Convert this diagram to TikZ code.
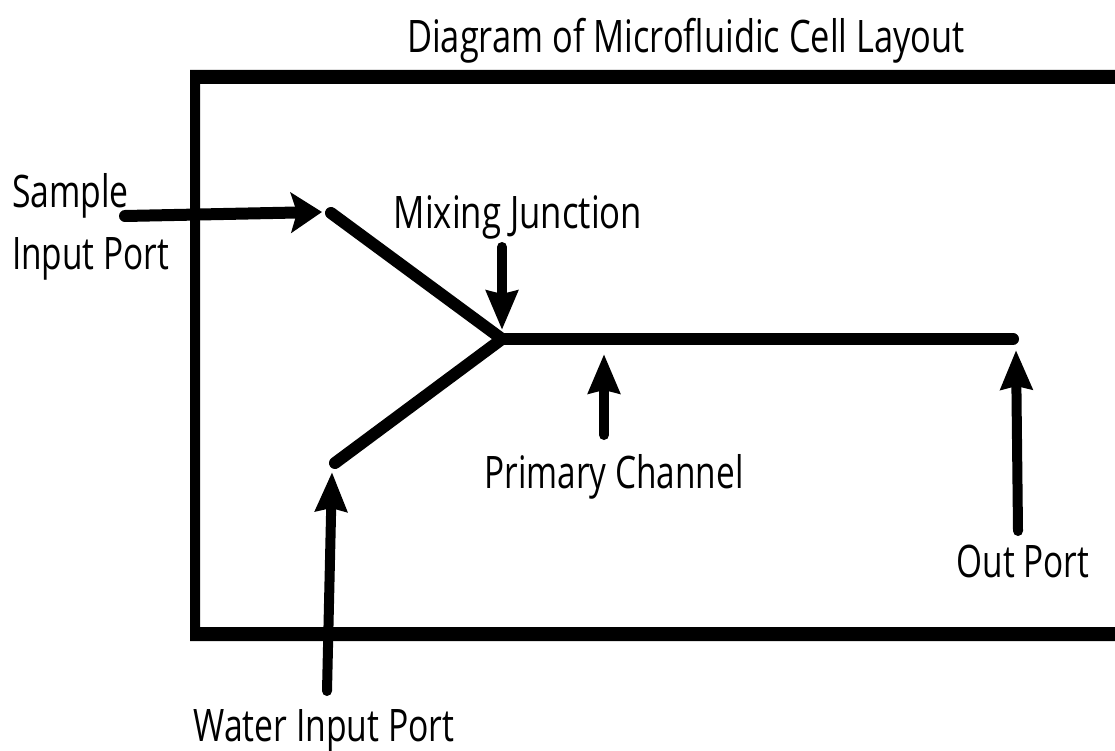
\documentclass[tikz,border=0pt]{standalone}
\usepackage{fontspec}
\setmainfont{Open Sans}
\usetikzlibrary{arrows.meta}
\tikzset{
  lbl/.style={inner sep=0pt,font=\fontsize{40}{48}\selectfont,yscale=1.12,xscale=0.86,align=left},
  chan/.style={line width=12pt,line cap=round,line join=round},
  arrh/.style={line width=12pt,line cap=round,-{Stealth[length=31pt,width=40pt,inset=6pt]}},
  arrv/.style={line width=10pt,line cap=round,-{Stealth[length=39pt,width=31pt,inset=3pt]}},
}
\begin{document}
\begin{tikzpicture}[x=1pt,y=-1pt]
\useasboundingbox (0,0) rectangle (1115,751);
\fill[white] (0,0) rectangle (1115,751);
\fill[black,even odd rule] (1115,70) -- (190,70) -- (190,641) -- (1115,641) -- cycle
  (1115,84) -- (200,84) -- (200,627) -- (1115,627) -- cycle;
\coordinate (s) at (331,213);
\coordinate (w) at (335,463);
\coordinate (j) at (502,339);
\coordinate (o) at (1013,339);
\draw[chan] (s) -- (j) -- (w);
\draw[chan] (j) -- (o);
\coordinate (a1) at (125,216);
\coordinate (a1e) at (322,212);
\coordinate (a2) at (502,247);
\coordinate (a2e) at (502,330);
\coordinate (a3) at (604,435);
\coordinate (a3e) at (604,354);
\coordinate (a4) at (1018,531);
\coordinate (a4e) at (1016,350);
\coordinate (a5) at (327,691);
\coordinate (a5e) at (332,472);
\draw[arrh] (a1) -- (a1e);
\draw[arrv] (a2) -- (a2e);
\draw[arrv] (a3) -- (a3e);
\draw[arrv] (a4) -- (a4e);
\draw[arrv] (a5) -- (a5e);
\node[lbl,anchor=center] (title) at (686,41) {Diagram of Microfluidic Cell Layout};
\node[lbl,anchor=west,xscale=0.98] (sa) at (12,196) {Sample};
\node[lbl,anchor=west,xscale=0.97] (ip) at (12,259) {Input Port};
\node[lbl,anchor=center,xscale=1.01] (mj) at (518,217) {Mixing Junction};
\node[lbl,anchor=center,xscale=0.97] (pc) at (614,477) {Primary Channel};
\node[lbl,anchor=center,xscale=0.97] (op) at (1023,561) {Out Port};
\node[lbl,anchor=center,xscale=0.98] (wp) at (324,731) {Water Input Port};
\end{tikzpicture}
\end{document}
